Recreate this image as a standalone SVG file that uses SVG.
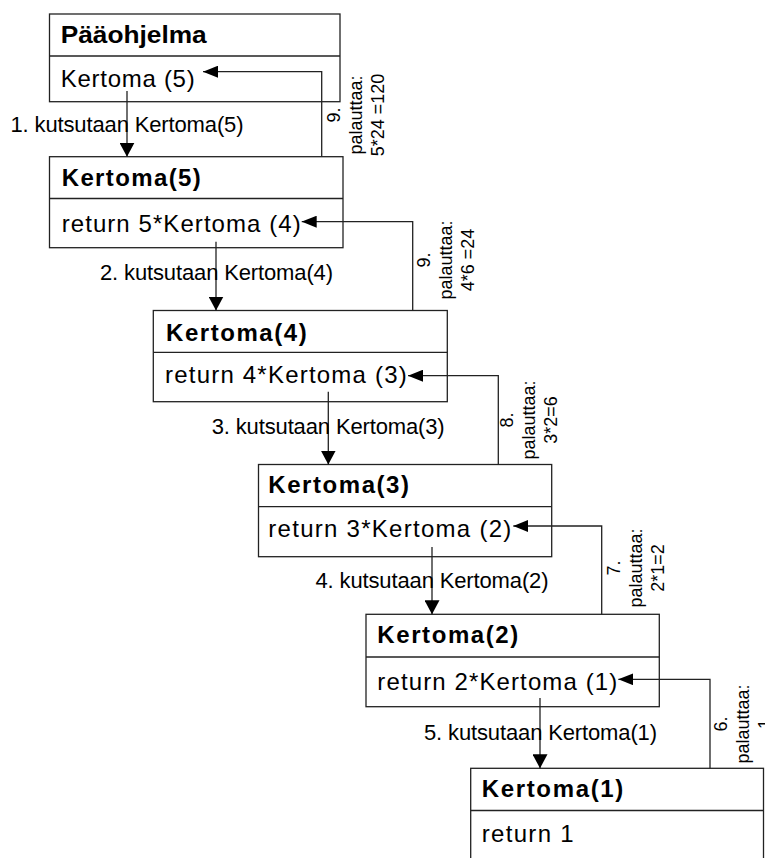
<svg xmlns="http://www.w3.org/2000/svg" width="765" height="858" viewBox="0 0 765 858">
<defs>
<style>
.box{fill:#fff;stroke:#222;stroke-width:1.3}
.div{stroke:#222;stroke-width:1.3}
.t{font-family:"Liberation Sans",Arial,sans-serif;font-size:24px;font-weight:bold;fill:#000}
.c{font-family:"Liberation Sans",Arial,sans-serif;font-size:24px;fill:#000}
.lbl{font-family:"Liberation Sans",Arial,sans-serif;font-size:22px;fill:#000}
.rl{font-family:"Liberation Sans",Arial,sans-serif;font-size:18px;fill:#000;text-anchor:middle}
.con{fill:none;stroke:#222;stroke-width:1.3}
</style>
<marker id="ah-ret" viewBox="0 0 15 12" markerWidth="15" markerHeight="12" markerUnits="userSpaceOnUse" refX="15" refY="6" orient="auto"><path d="M0,0 L15,6 L0,12 z" fill="#000"/></marker>
<marker id="ah-call" viewBox="0 0 14 15" markerWidth="14" markerHeight="15" markerUnits="userSpaceOnUse" refX="14" refY="7.5" orient="auto"><path d="M0,0 L14,7.5 L0,15 z" fill="#000"/></marker>
</defs>
<rect width="765" height="858" fill="#fff"/>

<g id="paaohjelma">
<rect class="box" x="49.5" y="14" width="290.5" height="87.7"/>
<line class="div" x1="49.5" y1="56" x2="340" y2="56"/>
<text class="t" x="60.7" y="43.3" textLength="146" lengthAdjust="spacingAndGlyphs">Pääohjelma</text>
<text class="c" x="60.7" y="86.7" textLength="134" lengthAdjust="spacing">Kertoma (5)</text>
</g>

<g id="kertoma5">
<rect class="box" x="49.5" y="156.7" width="293.5" height="91"/>
<line class="div" x1="49.5" y1="198.5" x2="343" y2="198.5"/>
<text class="t" x="61.7" y="185.7" textLength="139" lengthAdjust="spacing">Kertoma(5)</text>
<text class="c" x="61.7" y="231.7" textLength="239" lengthAdjust="spacing">return 5*Kertoma (4)</text>
</g>

<g id="kertoma4">
<rect class="box" x="153.3" y="310.5" width="294" height="91.2"/>
<line class="div" x1="153.3" y1="352.3" x2="447.3" y2="352.3"/>
<text class="t" x="166" y="340.7" textLength="140.7" lengthAdjust="spacing">Kertoma(4)</text>
<text class="c" x="165" y="382.7" textLength="241.7" lengthAdjust="spacing">return 4*Kertoma (3)</text>
</g>

<g id="kertoma3">
<rect class="box" x="258.5" y="464.5" width="293.2" height="92.2"/>
<line class="div" x1="258.5" y1="506.7" x2="551.7" y2="506.7"/>
<text class="t" x="268.3" y="493" textLength="140.7" lengthAdjust="spacing">Kertoma(3)</text>
<text class="c" x="268.3" y="537" textLength="243" lengthAdjust="spacing">return 3*Kertoma (2)</text>
</g>

<g id="kertoma2">
<rect class="box" x="366" y="614.3" width="293.3" height="92.4"/>
<line class="div" x1="366" y1="657" x2="659.3" y2="657"/>
<text class="t" x="377.3" y="643.3" textLength="141" lengthAdjust="spacing">Kertoma(2)</text>
<text class="c" x="377.3" y="690" textLength="240" lengthAdjust="spacing">return 2*Kertoma (1)</text>
</g>

<g id="kertoma1">
<rect class="box" x="470.7" y="768.3" width="292.8" height="120"/>
<line class="div" x1="470.7" y1="810.5" x2="763.5" y2="810.5"/>
<text class="t" x="481.7" y="796.7" textLength="141.6" lengthAdjust="spacing">Kertoma(1)</text>
<text class="c" x="481.7" y="841.7" textLength="92" lengthAdjust="spacing">return 1</text>
</g>

<g id="connectors">
<line class="con" x1="127" y1="91" x2="127" y2="156.7" marker-end="url(#ah-call)"/>
<line class="con" x1="216" y1="241.7" x2="216" y2="310.5" marker-end="url(#ah-call)"/>
<line class="con" x1="328.3" y1="391.7" x2="328.3" y2="464.5" marker-end="url(#ah-call)"/>
<line class="con" x1="432" y1="547" x2="432" y2="614.3" marker-end="url(#ah-call)"/>
<line class="con" x1="540" y1="698" x2="540" y2="768.3" marker-end="url(#ah-call)"/>

<polyline class="con" points="321.7,156.7 321.7,71.7 203,71.7" marker-end="url(#ah-ret)"/>
<polyline class="con" points="412.7,310.5 412.7,221.7 301.7,221.7" marker-end="url(#ah-ret)"/>
<polyline class="con" points="498.3,464.5 498.3,375.7 408,375.7" marker-end="url(#ah-ret)"/>
<polyline class="con" points="601.7,614.3 601.7,526 513.3,526" marker-end="url(#ah-ret)"/>
<polyline class="con" points="710,768.3 710,679.3 618.3,679.3" marker-end="url(#ah-ret)"/>

<text class="lbl" x="10.5" y="132" textLength="233" lengthAdjust="spacing">1. kutsutaan Kertoma(5)</text>
<text class="lbl" x="100" y="280" textLength="233" lengthAdjust="spacing">2. kutsutaan Kertoma(4)</text>
<text class="lbl" x="211.7" y="434" textLength="233" lengthAdjust="spacing">3. kutsutaan Kertoma(3)</text>
<text class="lbl" x="315.5" y="588" textLength="233" lengthAdjust="spacing">4. kutsutaan Kertoma(2)</text>
<text class="lbl" x="424" y="740" textLength="233" lengthAdjust="spacing">5. kutsutaan Kertoma(1)</text>

<text class="rl" transform="translate(340,115) rotate(-90)"><tspan x="0" y="0">9.</tspan><tspan x="0" dy="22">palauttaa:</tspan><tspan x="0" dy="22">5*24 =120</tspan></text>
<text class="rl" transform="translate(430,260) rotate(-90)"><tspan x="0" y="0">9.</tspan><tspan x="0" dy="22">palauttaa:</tspan><tspan x="0" dy="22">4*6 =24</tspan></text>
<text class="rl" transform="translate(513,420) rotate(-90)"><tspan x="0" y="0">8.</tspan><tspan x="0" dy="22">palauttaa:</tspan><tspan x="0" dy="22">3*2=6</tspan></text>
<text class="rl" transform="translate(620,568) rotate(-90)"><tspan x="0" y="0">7.</tspan><tspan x="0" dy="22">palauttaa:</tspan><tspan x="0" dy="22">2*1=2</tspan></text>
<text class="rl" transform="translate(727,724) rotate(-90)"><tspan x="0" y="0">6.</tspan><tspan x="0" dy="22">palauttaa:</tspan><tspan x="0" dy="22">1</tspan></text>
</g>
</svg>
